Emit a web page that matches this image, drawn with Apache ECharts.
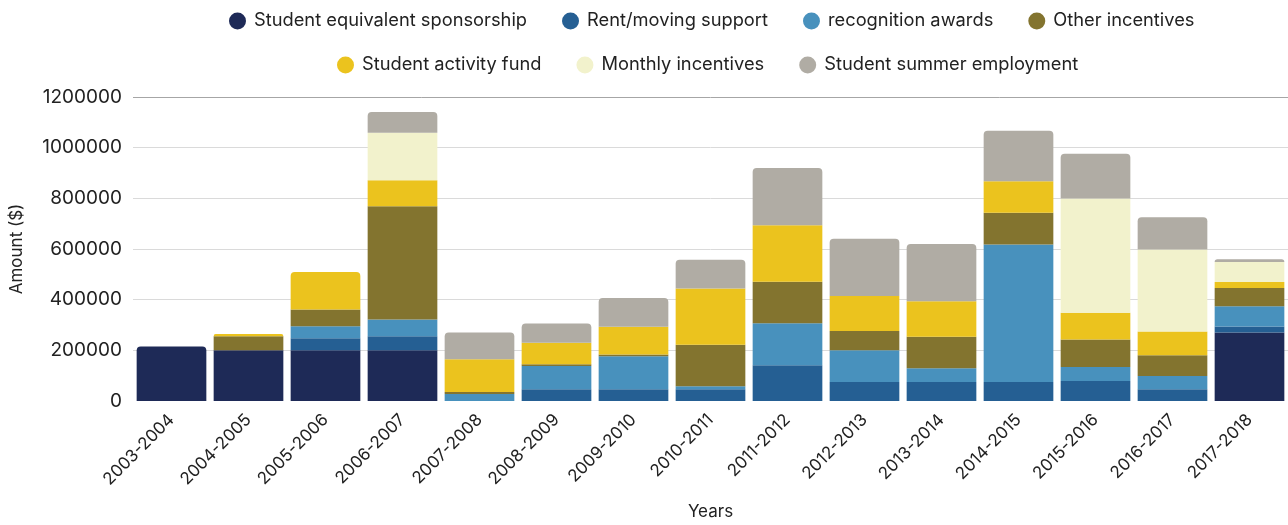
<!DOCTYPE html>
<html>
<head>
<meta charset="utf-8">
<script src="https://cdn.jsdelivr.net/npm/echarts@6/dist/echarts.min.js"></script>
<style>
  html, body { margin: 0; padding: 0; background: #ffffff; }
  #chart { width: 1288px; height: 525px; }
</style>
</head>
<body>
<div id="chart"></div>
<script>
// School years on the x axis
const categories = ['2003-2004', '2004-2005', '2005-2006', '2006-2007', '2007-2008',
  '2008-2009', '2009-2010', '2010-2011', '2011-2012', '2012-2013', '2013-2014',
  '2014-2015', '2015-2016', '2016-2017', '2017-2018'];

// Amounts ($) per funding stream, stacked bottom to top
const sponsorship = [215000, 200000, 200000, 200000, 0, 0, 0, 0, 0, 0, 0, 0, 0, 0, 270000];
const rentMoving  = [0, 0, 48000, 56000, 0, 46000, 46000, 46000, 141000, 75000, 75000, 75000, 79000, 46000, 24000];
const recognition = [0, 0, 47000, 66000, 28000, 92000, 131000, 12000, 166000, 125000, 54000, 543000, 55000, 53000, 80000];
const otherIncent = [0, 56000, 66000, 447000, 8000, 7000, 7000, 164000, 164000, 76000, 125000, 125000, 109000, 82000, 72000];
const activityFund = [0, 8000, 148000, 102000, 129000, 85000, 109000, 222000, 223000, 138000, 140000, 124000, 105000, 93000, 24000];
const monthlyIncent = [0, 0, 0, 188000, 0, 0, 0, 0, 0, 0, 0, 0, 451000, 324000, 79000];
const summerEmploy = [0, 0, 0, 82000, 105000, 76000, 114000, 114000, 226000, 226000, 226000, 200000, 177000, 127000, 11000];

const yTicks = [0, 200000, 400000, 600000, 800000, 1000000, 1200000];

const seriesDefs = [
  { name: 'Student equivalent sponsorship', values: sponsorship, color: '#1e2a57' },
  { name: 'Rent/moving support', values: rentMoving, color: '#255f93' },
  { name: 'recognition awards', values: recognition, color: '#4891bd' },
  { name: 'Other incentives', values: otherIncent, color: '#83742f' },
  { name: 'Student activity fund', values: activityFund, color: '#ebc31e' },
  { name: 'Monthly incentives', values: monthlyIncent, color: '#f2f2cc' },
  { name: 'Student summer employment', values: summerEmploy, color: '#b0aca4' }
];

// index of the uppermost non-empty segment in each column (gets rounded corners)
const topIndex = categories.map((_, i) => {
  let t = -1;
  seriesDefs.forEach((s, k) => { if (s.values[i] > 0) t = k; });
  return t;
});

const FONT = 'Inter';

const series = seriesDefs.map((s, k) => ({
  name: s.name,
  type: 'bar',
  stack: 'total',
  barCategoryGap: '9.5%',
  itemStyle: { color: s.color },
  emphasis: { disabled: true },
  data: s.values.map((v, i) => (
    topIndex[i] === k
      ? { value: v, itemStyle: { borderRadius: [4, 4, 0, 0] } }
      : v
  ))
}));

const legendText = { fontFamily: FONT, fontSize: 18.3, color: '#222', padding: [0, 0, 0, 3] };

const chart = echarts.init(document.getElementById('chart'), null, { renderer: 'canvas' });
chart.setOption({
  animation: false,
  color: seriesDefs.map(s => s.color),
  legend: [
    {
      data: seriesDefs.slice(0, 4).map(s => s.name),
      left: 224, top: 7,
      icon: 'circle', itemWidth: 17, itemHeight: 17, itemGap: 35,
      textStyle: legendText
    },
    {
      data: seriesDefs.slice(4).map(s => s.name),
      left: 332, top: 51,
      icon: 'circle', itemWidth: 17, itemHeight: 17, itemGap: 35,
      textStyle: legendText
    }
  ],
  grid: { left: 133, top: 97, width: 1159, bottom: 122, containLabel: false },
  xAxis: {
    type: 'category',
    data: categories,
    name: 'Years',
    nameLocation: 'middle',
    nameGap: 102,
    nameTextStyle: { fontFamily: FONT, fontSize: 17, color: '#222' },
    axisLine: { show: false },
    axisTick: { show: false },
    axisLabel: { rotate: 45, margin: 16, fontFamily: FONT, fontSize: 17, color: '#222', interval: 0 }
  },
  yAxis: {
    type: 'value',
    min: yTicks[0],
    max: yTicks[yTicks.length - 1],
    interval: yTicks[1] - yTicks[0],
    name: 'Amount ($)',
    nameLocation: 'middle',
    nameGap: 108,
    nameTextStyle: { fontFamily: FONT, fontSize: 17, color: '#222' },
    axisLine: { show: false },
    axisTick: { show: false },
    axisLabel: { margin: 11, fontFamily: FONT, fontSize: 19, color: '#222', formatter: v => String(v) },
    splitLine: {
      lineStyle: {
        width: 1,
        color: ['rgba(0,0,0,0)', '#dadada', '#dadada', '#dadada', '#dadada', '#dadada', '#a6a6a6']
      }
    }
  },
  series: series
});
</script>
</body>
</html>
